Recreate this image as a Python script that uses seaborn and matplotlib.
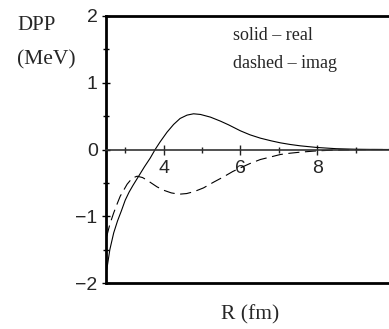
import matplotlib
matplotlib.use("Agg")
import matplotlib.pyplot as plt
import seaborn as sns
import pandas as pd

# Data
r_real = [2.52, 2.6, 2.7, 2.8, 2.9, 3.0, 3.1, 3.2, 3.35, 3.5, 3.65, 3.78, 3.91, 4.09,
          4.26, 4.43, 4.61, 4.78, 4.96, 5.22, 5.48, 5.69, 6.0, 6.25, 6.52,
          6.8, 7.04, 7.3, 7.56, 8.0, 8.5, 9.0, 9.5, 9.87]
v_real = [-1.80, -1.50, -1.25, -1.07, -0.92, -0.76, -0.64, -0.54, -0.40, -0.26, -0.13,
          0.0, 0.115, 0.26, 0.375, 0.465, 0.515, 0.535, 0.525, 0.485, 0.425, 0.37,
          0.28, 0.22, 0.17, 0.13, 0.10, 0.075, 0.055, 0.03, 0.012, 0.004, 0.001, 0.0]

r_imag = [2.52, 2.6, 2.7, 2.8, 2.87, 2.95, 3.05, 3.18, 3.31, 3.45, 3.57, 3.7, 3.83, 4.0,
          4.2, 4.4, 4.6, 4.8, 5.04, 5.3, 5.56, 5.8, 6.0, 6.25, 6.52, 6.8, 7.04, 7.3,
          7.56, 8.0, 8.5, 9.0, 9.5, 9.87]
v_imag = [-1.30, -1.12, -0.95, -0.80, -0.70, -0.62, -0.52, -0.43, -0.40, -0.42, -0.46,
          -0.51, -0.56, -0.61, -0.65, -0.67, -0.66, -0.63, -0.575, -0.49, -0.41, -0.33,
          -0.275, -0.21, -0.15, -0.11, -0.075, -0.055, -0.04, -0.02, -0.008, -0.002,
          0.0, 0.0]

x_major = [4, 6, 8]
x_minor = [3, 5, 7, 9]
y_major = [-2, -1, 0, 1, 2]
y_minor = [-1.5, -0.5, 0.5, 1.5]

sns.set_style("white")
plt.rcParams['font.family'] = ['Liberation Sans', 'DejaVu Sans']

fig = plt.figure(figsize=(3.89, 3.29), dpi=100)
ax = fig.add_axes([106/389, 1-283/329, 1-106/389, (283-16)/329])

df_r = pd.DataFrame({"R": r_real, "V": v_real})
df_i = pd.DataFrame({"R": r_imag, "V": v_imag})
sns.lineplot(data=df_r, x="R", y="V", ax=ax, color="black", lw=0.8, sort=False)
sns.lineplot(data=df_i, x="R", y="V", ax=ax, color="black", lw=0.8, sort=False,
             linestyle=(0, (10, 5)))

ax.set_xlim(2.5, 9.87)
ax.set_ylim(-2, 2)

# spines
ax.spines['right'].set_visible(False)
ax.spines['top'].set_linewidth(2.0)
ax.spines['left'].set_linewidth(2.0)
ax.spines['top'].set_color('black')
ax.spines['left'].set_color('black')
ax.spines['bottom'].set_position(('data', 0))
ax.spines['bottom'].set_linewidth(1.2)
ax.spines['bottom'].set_color('#333333')
ax.axhline(-2, color='black', lw=2.0, clip_on=False, zorder=5)

ax.set_xticks(x_major)
ax.set_xticks(x_minor, minor=True)
ax.set_yticks(y_major)
ax.set_yticks(y_minor, minor=True)
ax.set_yticklabels(['\u22122', '\u22121', '0', '1', '2'])
ax.tick_params(axis='x', which='major', direction='inout', length=7, width=1,
               labelsize=14, pad=4, bottom=True, color='#222222')
ax.tick_params(axis='x', which='minor', direction='inout', length=4, width=1,
               bottom=True, color='#222222')
ax.tick_params(axis='y', which='major', direction='inout', length=6, width=1,
               labelsize=14, pad=3, left=True, color='black')
ax.tick_params(axis='y', which='minor', direction='inout', length=4, width=1,
               left=True, color='black')
ax.set_xlabel("")
ax.set_ylabel("")

serif = ['Liberation Serif', 'DejaVu Serif']
fig.text(17/389, 1-25/329, "DPP", family=serif, fontsize=15, va='center', ha='left')
fig.text(17/389, 1-60/329, "(MeV)", family=serif, fontsize=15.5, va='center', ha='left')
fig.text(233/389, 1-36/329, "solid \u2013 real", family=serif, fontsize=13, va='center', ha='left')
fig.text(233/389, 1-63/329, "dashed \u2013 imag", family=serif, fontsize=13, va='center', ha='left')
fig.text(250/389, 1-315/329, "R (fm)", family=serif, fontsize=15.5, va='center', ha='center')

fig.savefig("out.png", dpi=100)
